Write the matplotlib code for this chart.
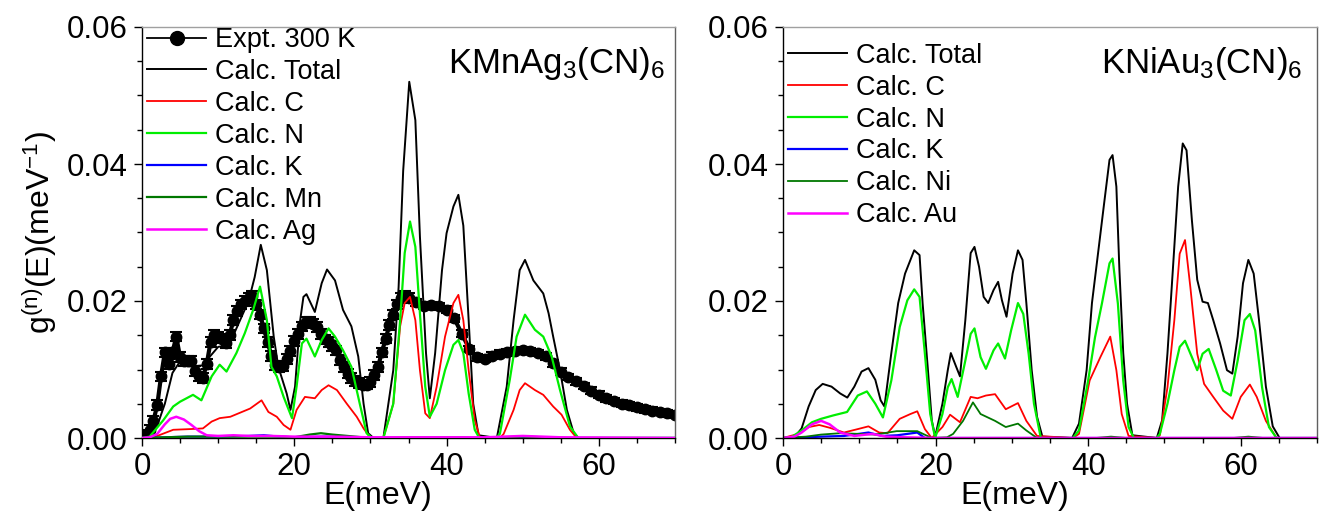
import matplotlib
matplotlib.use('Agg')
import matplotlib.pyplot as plt
from matplotlib.lines import Line2D
from matplotlib.ticker import MultipleLocator, FormatStrFormatter

plt.rcParams['font.family'] = ['Liberation Sans', 'DejaVu Sans']
plt.rcParams['mathtext.fontset'] = 'custom'
plt.rcParams['mathtext.rm'] = 'Liberation Sans'
plt.rcParams['mathtext.default'] = 'regular'

# ---- KMnAg3(CN)6 : experiment 300 K ----
expt_E = [0, 0.5, 1, 1.5, 2, 2.5, 3, 3.5, 4, 4.5, 5, 5.5, 6, 6.5, 7, 7.5, 8, 8.5,
          9, 9.5, 10, 10.5, 11, 11.5, 12, 12.5, 13, 13.5, 14, 14.5, 15, 15.5, 16,
          16.5, 17, 17.5, 18, 18.5, 19, 19.5, 20, 20.5, 21, 21.5, 22, 22.5, 23,
          23.5, 24, 24.5, 25, 25.5, 26, 26.5, 27, 27.5, 28, 28.5, 29, 29.5, 30,
          30.5, 31, 31.5, 32, 32.5, 33, 33.5, 34, 34.5, 35,
          36, 37, 38, 39, 40, 41, 42, 43, 44, 45, 46, 47, 48, 49, 50, 51, 52, 53,
          54, 55, 56, 57, 58, 59, 60, 61, 62, 63, 64, 65, 66, 67, 68, 69, 70]
expt_g = [0.0000, 0.0004, 0.0012, 0.0025, 0.0048, 0.0090, 0.0125, 0.0108, 0.0125,
          0.0148, 0.0118, 0.0112, 0.0112, 0.0112, 0.0098, 0.0090, 0.0088, 0.0108,
          0.0140, 0.0150, 0.0148, 0.0145, 0.0138, 0.0150, 0.0172, 0.0185, 0.0195,
          0.0200, 0.0205, 0.0207, 0.0195, 0.0180, 0.0160, 0.0140, 0.0120, 0.0106,
          0.0104, 0.0105, 0.0115, 0.0127, 0.0142, 0.0152, 0.0163, 0.0170, 0.0170,
          0.0167, 0.0162, 0.0152, 0.0144, 0.0140, 0.0134, 0.0128, 0.0114, 0.0104,
          0.0094, 0.0088, 0.0083, 0.0080, 0.0078, 0.0078, 0.0082, 0.0092, 0.0104,
          0.0125, 0.0145, 0.0165, 0.0180, 0.0195, 0.0204, 0.0207, 0.0205,
          0.0198, 0.0193, 0.0194, 0.0192, 0.0187, 0.0175, 0.0152, 0.0130, 0.0118,
          0.0116, 0.0120, 0.0123, 0.0125, 0.0127, 0.0128, 0.0127, 0.0124, 0.0119,
          0.0109, 0.0097, 0.0089, 0.0083, 0.0076, 0.0069, 0.0063, 0.0058, 0.0054,
          0.0050, 0.0048, 0.0045, 0.0042, 0.0040, 0.0038, 0.0036, 0.0034]
expt_err = [0.0007] * 71 + [0.0005] * 35

# ---- KMnAg3(CN)6 : calculated partials ----
mn_tot_E = [0, 1, 2, 3, 4, 5, 6, 7, 8, 9, 10, 11, 12, 13, 14, 14.8, 15.6, 16.4, 17.3,
            17.9, 19.0, 19.5, 20.1, 20.75, 21.2, 21.6, 22.7, 23.6, 24.3, 25.35, 26.4,
            27.5, 28.4, 29.1, 29.7, 30.4, 31.7, 33.0, 33.7, 34.3, 35.1, 35.9, 36.5,
            37.3, 37.8, 38.5, 39.4, 40.0, 40.9, 41.55, 42.2, 42.9, 43.5, 44.2, 46.6,
            47.9, 48.8, 49.6, 50.3, 51.4, 52.7, 53.4, 54.0, 54.9, 55.8, 56.7, 57.3, 70]
mn_tot_g = [0, 0.0003, 0.0018, 0.0050, 0.0095, 0.0112, 0.0110, 0.0105, 0.0106, 0.0120,
            0.0133, 0.0135, 0.0150, 0.0175, 0.0200, 0.0235, 0.0282, 0.0245, 0.0148,
            0.0104, 0.0065, 0.0041, 0.0075, 0.0170, 0.0206, 0.0210, 0.0184, 0.0226,
            0.0246, 0.0230, 0.0187, 0.0163, 0.0119, 0.0050, 0.0007, 0, 0, 0.0099,
            0.0220, 0.0390, 0.0520, 0.0464, 0.0294, 0.0124, 0.0058, 0.0124, 0.0245,
            0.0299, 0.0338, 0.0355, 0.0310, 0.0172, 0.0050, 0.0004, 0, 0.0075, 0.0172,
            0.0245, 0.0260, 0.0230, 0.0211, 0.0182, 0.0148, 0.0099, 0.0041, 0.0007, 0, 0]

mn_C_E = [0, 2, 4.1, 6.3, 8.0, 9.15, 10.2, 11.6, 12.9, 14.2, 15.7, 16.6, 17.7, 18.6,
          19.5, 20.3, 21.4, 22.7, 23.6, 24.5, 25.6, 26.9, 28.2, 29.1, 30.0, 31.7, 33.0,
          33.9, 34.5, 35.2, 35.9, 36.5, 37.2, 37.8, 38.7, 39.8, 40.9, 41.55, 42.2, 42.9,
          43.7, 44.4, 47.0, 47.5, 48.8, 49.6, 50.3, 51.6, 52.7, 54.0, 55.1, 56.2, 57.1, 70]
mn_C_g = [0, 0.0003, 0.0012, 0.0013, 0.0014, 0.0024, 0.0029, 0.0031, 0.0037, 0.0043,
          0.0055, 0.0038, 0.0031, 0.0019, 0.0012, 0.0041, 0.0060, 0.0058, 0.0070, 0.0077,
          0.0070, 0.0050, 0.0031, 0.0014, 0, 0, 0.0050, 0.0163, 0.0197, 0.0206, 0.0172,
          0.0099, 0.0036, 0.0029, 0.0075, 0.0148, 0.0197, 0.0209, 0.0172, 0.0099, 0.0026,
          0, 0, 0.0006, 0.0041, 0.0070, 0.0080, 0.0070, 0.0063, 0.0046, 0.0034, 0.0012,
          0, 0]

mn_N_E = [0, 1, 2.8, 4.1, 5, 6.7, 7.8, 9.15, 10.2, 11.1, 12.4, 13.5, 14.6, 15.5, 16.4,
          17.0, 17.7, 18.6, 19.7, 20.3, 21.0, 21.6, 22.7, 23.6, 24.5, 25.35, 26.4, 27.5,
          28.6, 29.5, 30.2, 31.7, 33.0, 33.9, 34.5, 35.2, 35.9, 36.5, 37.2, 37.8, 38.7,
          39.8, 40.9, 41.55, 42.2, 42.9, 43.7, 44.3, 46.5, 47.0, 48.3, 49.2, 50.3, 51.6,
          52.7, 53.8, 54.9, 56.2, 57.3, 70]
mn_N_g = [0, 0.0002, 0.0026, 0.0046, 0.0053, 0.0063, 0.0055, 0.0090, 0.0107, 0.0097,
          0.0124, 0.0153, 0.0187, 0.0221, 0.0172, 0.0104, 0.0090, 0.0060, 0.0029, 0.0075,
          0.0138, 0.0145, 0.0119, 0.0143, 0.0160, 0.0148, 0.0128, 0.0104, 0.0050, 0.0007,
          0, 0, 0.0050, 0.0172, 0.0270, 0.0316, 0.0279, 0.0182, 0.0075, 0.0031, 0.0050,
          0.0099, 0.0136, 0.0143, 0.0124, 0.0065, 0.0012, 0, 0, 0.0006, 0.0085, 0.0148,
          0.0180, 0.0158, 0.0148, 0.0119, 0.0070, 0.0017, 0, 0]

mn_K_E = [0, 3, 6, 10, 14, 16, 18, 20, 24, 28, 30, 70]
mn_K_g = [0, 0.0001, 0.0002, 0.0002, 0.0003, 0.0004, 0.0002, 0.0001, 0.0002, 0.0001, 0, 0]

mn_Mn_E = [0, 3, 6, 10, 14, 18, 20, 22, 23.5, 25, 28, 30, 35, 42, 44, 50, 56, 70]
mn_Mn_g = [0, 0.0001, 0.0002, 0.0002, 0.0002, 0.0002, 0.0001, 0.0005, 0.0007, 0.0005,
           0.0002, 0, 0.0001, 0.0001, 0, 0.0002, 0, 0]

mn_Ag_E = [0, 1, 2, 3, 3.7, 4.5, 5.5, 6.5, 7.5, 8.5, 10, 12, 14, 17, 20, 25, 30, 35,
           45, 50, 55, 70]
mn_Ag_g = [0, 0.0001, 0.0006, 0.0020, 0.0028, 0.0031, 0.0027, 0.0019, 0.0010, 0.0004,
           0.0003, 0.0004, 0.0003, 0.0003, 0.0002, 0.0002, 0.0001, 0.0001, 0.0001,
           0.0003, 0.0001, 0]

# ---- KNiAu3(CN)6 : calculated partials ----
ni_tot_E = [0, 1.5, 2.44, 3.36, 4.29, 5.2, 6.36, 7.5, 8.43, 9.35, 10.3, 11.2, 12.1, 12.8,
            13.3, 14.2, 15.1, 16.0, 17.2, 17.9, 18.3, 19.0, 19.5, 19.95, 20.9, 21.6, 22.0,
            22.7, 23.2, 23.9, 24.6, 25.1, 25.7, 26.3, 26.9, 27.6, 28.2, 28.7, 29.3, 30.1,
            30.8, 31.4, 31.9, 32.6, 33.3, 34.0, 37.9, 38.8, 39.8, 40.5, 41.4, 42.1, 42.8,
            43.2, 43.7, 44.1, 44.6, 45.1, 45.8, 49.0, 49.7, 50.4, 51.1, 51.8, 52.4, 52.9,
            53.6, 54.3, 55.0, 55.7, 56.4, 57.3, 58.2, 58.9, 59.6, 60.3, 61.0, 61.7, 62.4,
            63.3, 64.2, 65.1, 70]
ni_tot_g = [0, 0.0001, 0.0014, 0.0046, 0.0070, 0.0079, 0.0075, 0.0065, 0.0059, 0.0075,
            0.0097, 0.0102, 0.0085, 0.0055, 0.0046, 0.0124, 0.0197, 0.0240, 0.0274, 0.0267,
            0.0197, 0.0099, 0.0026, 0.0002, 0.0050, 0.0099, 0.0124, 0.0104, 0.0090, 0.0172,
            0.0270, 0.0279, 0.0250, 0.0206, 0.0197, 0.0216, 0.0228, 0.0201, 0.0177, 0.0240,
            0.0274, 0.0260, 0.0197, 0.0099, 0.0031, 0.0002, 0, 0.0021, 0.0099, 0.0197,
            0.0279, 0.0343, 0.0406, 0.0413, 0.0367, 0.0245, 0.0124, 0.0050, 0.0004, 0,
            0.0026, 0.0124, 0.0245, 0.0367, 0.0430, 0.0420, 0.0318, 0.0231, 0.0199, 0.0197,
            0.0172, 0.0138, 0.0099, 0.0094, 0.0148, 0.0226, 0.0260, 0.0240, 0.0172, 0.0075,
            0.0017, 0, 0]

ni_C_E = [0, 2.0, 3.4, 4.75, 6.1, 8.0, 9.8, 11.2, 12.6, 13.7, 15.3, 16.7, 17.6, 18.6,
          19.5, 20.9, 21.9, 23.2, 24.6, 25.5, 26.6, 27.8, 29.2, 30.8, 31.9, 33.3, 38.0,
          38.8, 40.2, 41.6, 42.9, 43.7, 44.4, 45.3, 49.0, 49.4, 50.4, 51.3, 52.0, 52.7,
          53.4, 54.3, 55.2, 56.4, 57.7, 58.9, 60.0, 61.2, 62.1, 63.3, 64.7, 70]
ni_C_g = [0, 0.0006, 0.0016, 0.0019, 0.0015, 0.0008, 0.0013, 0.0017, 0.0008, 0.0007,
          0.0028, 0.0035, 0.0039, 0.0013, 0, 0.0016, 0.0034, 0.0023, 0.0060, 0.0058,
          0.0062, 0.0064, 0.0042, 0.0051, 0.0025, 0.0003, 0, 0.0006, 0.0084, 0.0118,
          0.0148, 0.0099, 0.0035, 0.0003, 0, 0.0004, 0.0074, 0.0172, 0.0269, 0.0289,
          0.0220, 0.0123, 0.0079, 0.0060, 0.0040, 0.0028, 0.0060, 0.0078, 0.0060, 0.0025,
          0, 0]

ni_N_E = [0, 1.06, 2.44, 3.8, 5.0, 6.6, 8.4, 9.8, 11.0, 12.1, 13.1, 14.2, 15.3, 16.3,
          17.2, 17.9, 18.6, 19.3, 19.95, 20.9, 21.6, 22.1, 22.9, 23.9, 24.6, 25.1, 25.9,
          26.6, 27.6, 28.2, 29.1, 29.9, 30.8, 31.5, 32.2, 32.9, 33.8, 38.0, 38.8, 40.0,
          40.9, 41.8, 42.8, 43.2, 43.9, 44.6, 45.3, 46.0, 49.0, 49.4, 50.4, 51.3, 52.0,
          52.7, 53.6, 54.3, 55.0, 55.8, 56.8, 57.7, 58.7, 59.6, 60.5, 61.2, 61.9, 62.8,
          63.7, 64.7, 70]
ni_N_g = [0, 0.0001, 0.0011, 0.0023, 0.0028, 0.0033, 0.0038, 0.0062, 0.0068, 0.0050,
          0.0030, 0.0084, 0.0162, 0.0201, 0.0217, 0.0206, 0.0123, 0.0035, 0, 0.0035,
          0.0074, 0.0086, 0.0060, 0.0113, 0.0152, 0.0160, 0.0118, 0.0101, 0.0128, 0.0138,
          0.0116, 0.0157, 0.0197, 0.0181, 0.0123, 0.0050, 0, 0, 0.0011, 0.0084, 0.0147,
          0.0196, 0.0255, 0.0262, 0.0196, 0.0084, 0.0016, 0, 0, 0.0006, 0.0050, 0.0099,
          0.0133, 0.0142, 0.0118, 0.0099, 0.0123, 0.0130, 0.0099, 0.0069, 0.0062, 0.0113,
          0.0172, 0.0181, 0.0157, 0.0074, 0.0016, 0, 0]

ni_K_E = [0, 3, 5, 8, 11.2, 13, 15, 17.6, 18.6, 70]
ni_K_g = [0, 0.0001, 0.0002, 0.0003, 0.0008, 0.0003, 0.0004, 0.0008, 0, 0]

ni_Ni_E = [0, 3, 5, 7.5, 10, 12.1, 14.9, 17.6, 19.5, 21.5, 22.3, 23.6, 24.9, 25.9, 27.8,
           29.2, 30.8, 31.9, 33.3, 41, 43, 45, 59, 61, 63, 70]
ni_Ni_g = [0, 0.0002, 0.0005, 0.0007, 0.0006, 0.0005, 0.0010, 0.0010, 0, 0.0001, 0.0006,
           0.0025, 0.0052, 0.0035, 0.0025, 0.0016, 0.0021, 0.0011, 0, 0, 0.0002, 0, 0,
           0.0002, 0, 0]

ni_Au_E = [0, 1.5, 2.44, 3.8, 5.0, 6.1, 7.5, 9.35, 11.7, 13.5, 16, 20, 70]
ni_Au_g = [0, 0.0002, 0.0008, 0.0020, 0.0025, 0.0020, 0.0008, 0.0003, 0.0006, 0.0002,
           0.0001, 0, 0]

fig = plt.figure(figsize=(13.32, 5.21), dpi=100)
W, H = 1332., 521.
ax1 = fig.add_axes([142 / W, 1 - 438 / H, 533 / W, 411 / H])
ax2 = fig.add_axes([783 / W, 1 - 438 / H, 534 / W, 411 / H])

# left panel
ax1.errorbar(expt_E, expt_g, yerr=expt_err, fmt='none', ecolor='k', elinewidth=1.5,
             capsize=4.5, capthick=1.5, zorder=2)
ax1.plot(expt_E, expt_g, '-o', color='k', lw=3, ms=7.5, zorder=2)
ax1.plot(mn_tot_E, mn_tot_g, color='k', lw=1.4, label='Calc. Total', zorder=3)
ax1.plot(mn_C_E, mn_C_g, color='#ff0000', lw=1.3, label='Calc. C', zorder=3)
ax1.plot(mn_N_E, mn_N_g, color='#00ee00', lw=1.6, label='Calc. N', zorder=3)
ax1.plot(mn_K_E, mn_K_g, color='#0000ff', lw=1.6, label='Calc. K', zorder=3)
ax1.plot(mn_Mn_E, mn_Mn_g, color='#007700', lw=1.6, label='Calc. Mn', zorder=3)
ax1.plot(mn_Ag_E, mn_Ag_g, color='#ff00ff', lw=1.8, label='Calc. Ag', zorder=3)

# legend entry for the experiment: thin line with one dot, as in the figure
expt_proxy = Line2D([], [], color='k', lw=1.3, marker='o', ms=10)
h1, l1 = ax1.get_legend_handles_labels()

# right panel
ax2.plot(ni_tot_E, ni_tot_g, color='k', lw=1.4, label='Calc. Total')
ax2.plot(ni_C_E, ni_C_g, color='#ff0000', lw=1.3, label='Calc. C')
ax2.plot(ni_N_E, ni_N_g, color='#00ee00', lw=1.6, label='Calc. N')
ax2.plot(ni_K_E, ni_K_g, color='#0000ff', lw=1.6, label='Calc. K')
ax2.plot(ni_Ni_E, ni_Ni_g, color='#007700', lw=1.3, label='Calc. Ni')
ax2.plot(ni_Au_E, ni_Au_g, color='#ff00ff', lw=1.8, label='Calc. Au')

for ax in (ax1, ax2):
    ax.set_xlim(0, 70)
    ax.set_ylim(0, 0.06)
    ax.xaxis.set_major_locator(MultipleLocator(20))
    ax.xaxis.set_minor_locator(MultipleLocator(5))
    ax.yaxis.set_major_locator(MultipleLocator(0.02))
    ax.yaxis.set_minor_locator(MultipleLocator(0.005))
    ax.yaxis.set_major_formatter(FormatStrFormatter('%.2f'))
    ax.tick_params(which='major', direction='out', length=6, width=1, labelsize=22.5, pad=4)
    ax.tick_params(which='minor', direction='out', length=3.3, width=1)
    ax.spines['top'].set_color('#a0a0a0')
    ax.spines['right'].set_color('#606060')
    for s in ax.spines.values():
        s.set_linewidth(1)
    ax.set_xlabel('E(meV)', fontsize=23)

ax1.xaxis.set_label_coords(0.443, -0.105)
ax2.xaxis.set_label_coords(0.434, -0.105)
ax1.set_ylabel(r'g$^{(n)}$(E)(meV$^{-1}$)', fontsize=23, labelpad=6)

ax1.text(0.981, 0.888, r'KMnAg$_3$(CN)$_6$', transform=ax1.transAxes, ha='right',
         va='baseline', fontsize=25)
ax2.text(0.972, 0.888, r'KNiAu$_3$(CN)$_6$', transform=ax2.transAxes, ha='right',
         va='baseline', fontsize=25)

ax1.legend([expt_proxy] + h1, ['Expt. 300 K'] + l1, loc='upper left',
           bbox_to_anchor=(0.009, 1.0), frameon=False, fontsize=19.5,
           handlelength=2.2, handletextpad=0.3, labelspacing=0.22, borderaxespad=0,
           borderpad=0)
ax2.legend(loc='upper left', bbox_to_anchor=(0.009, 0.962), frameon=False, fontsize=19.5,
           handlelength=2.2, handletextpad=0.3, labelspacing=0.22, borderaxespad=0,
           borderpad=0)

fig.savefig('out.png', dpi=100)
